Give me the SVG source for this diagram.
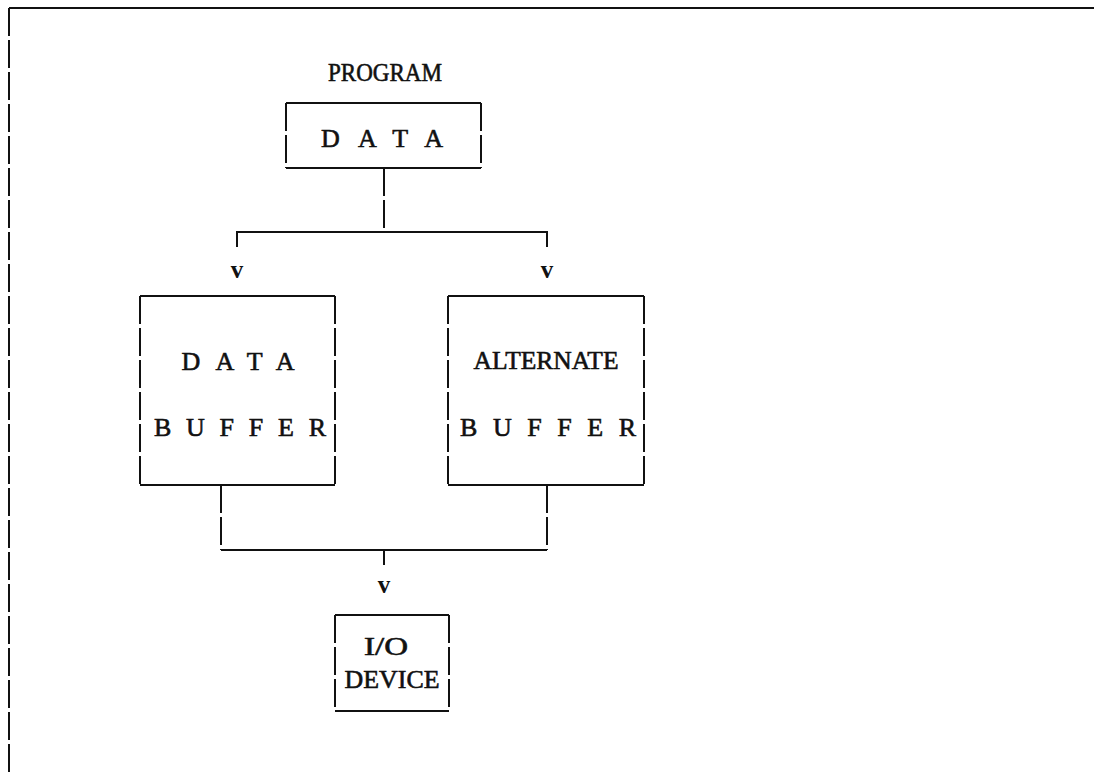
<svg xmlns="http://www.w3.org/2000/svg" width="1094" height="772" viewBox="0 0 1094 772">
<style>
.h{fill:none;stroke:#111;stroke-width:2}
.v{fill:none;stroke:#111;stroke-width:2;stroke-dasharray:28 4}
.t{font-family:"Liberation Serif","Times New Roman",serif;font-size:26px;fill:#111;stroke:#111;stroke-width:0.6;text-anchor:middle}
.a{font-family:"Liberation Serif","Times New Roman",serif;font-size:25px;font-weight:bold;fill:#111;text-anchor:middle}
</style>
<rect width="1094" height="772" fill="#fff"/>
<g id="frame">
<path class="h" d="M9 8H1094"/>
<path class="v" d="M9 8V772"/>
</g>
<g id="program">
<text class="t" x="385" y="81" textLength="114" lengthAdjust="spacingAndGlyphs">PROGRAM</text>
</g>
<g id="data">
<path class="h" d="M286 103H481M286 168H481"/>
<path class="v" d="M286 103V168M481 103V168"/>
<text class="t" x="382" y="147" textLength="122" lengthAdjust="spacing">DATA</text>
</g>
<g id="data-buffer">
<path class="h" d="M140 296H335M140 485H335"/>
<path class="v" d="M140 296V485M335 296V485"/>
<text class="t" x="238" y="370" textLength="113" lengthAdjust="spacing">DATA</text>
<text class="t" x="240" y="436" textLength="172" lengthAdjust="spacing">BUFFER</text>
</g>
<g id="alternate-buffer">
<path class="h" d="M448 296H644M448 485H644"/>
<path class="v" d="M448 296V485M644 296V485"/>
<text class="t" x="546" y="369" textLength="145" lengthAdjust="spacingAndGlyphs">ALTERNATE</text>
<text class="t" x="548" y="436" textLength="176" lengthAdjust="spacing">BUFFER</text>
</g>
<g id="io-device">
<path class="h" d="M335 615H449M335 711H449"/>
<path class="v" d="M335 615V711M449 615V711"/>
<text class="t" x="386" y="655" textLength="44" lengthAdjust="spacingAndGlyphs">I/O</text>
<text class="t" x="392" y="688" textLength="95" lengthAdjust="spacingAndGlyphs">DEVICE</text>
</g>
<g id="connectors">
<path class="v" d="M384 168V232"/>
<path class="h" d="M237 247V232H547V247"/>
<text class="a" x="237" y="278">v</text>
<text class="a" x="547" y="278">v</text>
<path class="v" d="M221 485V550M547 485V550"/>
<path class="h" d="M221 550H547M384 550V565"/>
<text class="a" x="384" y="593">v</text>
</g>
</svg>
